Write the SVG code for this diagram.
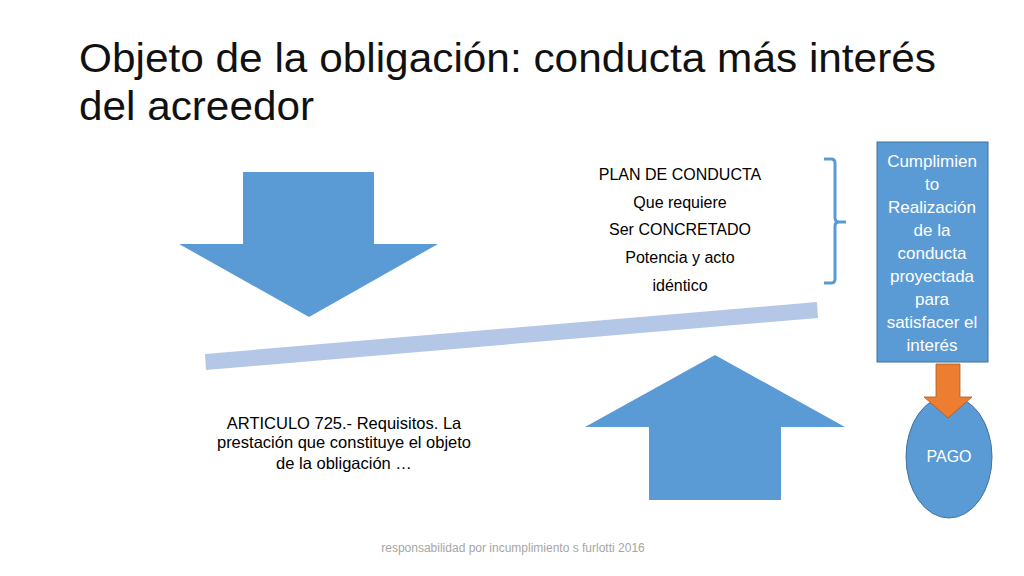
<svg xmlns="http://www.w3.org/2000/svg" width="1024" height="576" viewBox="0 0 1024 576">
<style>
.t{font-family:"Liberation Sans",Arial,sans-serif;}
.title{font-size:40px;fill:#111;}
.body{font-size:16px;fill:#000;text-anchor:middle;}
.art{font-size:16.5px;fill:#000;text-anchor:middle;}
.wt{font-size:17px;fill:#fff;text-anchor:middle;}
.blue{fill:#5B9BD5;}
.foot{font-size:12px;fill:#A6A6A6;text-anchor:middle;}
</style>
<rect width="1024" height="576" fill="#fff"/>
<g id="title" class="t title">
<text x="79" y="72" textLength="857" lengthAdjust="spacingAndGlyphs">Objeto de la obligación: conducta más interés</text>
<text x="79" y="120" textLength="235" lengthAdjust="spacingAndGlyphs">del acreedor</text>
</g>
<g id="down-arrow">
<polygon class="blue" points="243,172 374,172 374,244 438,244 309,317 179,244 243,244"/>
</g>
<g id="bar">
<polygon fill="#B4C7E7" points="205,354 817,302 818,318 206,370"/>
</g>
<g id="plan" class="t body">
<text x="680" y="180">PLAN DE CONDUCTA</text>
<text x="680" y="208">Que requiere</text>
<text x="680" y="235">Ser CONCRETADO</text>
<text x="680" y="263">Potencia y acto</text>
<text x="680" y="291">idéntico</text>
</g>
<g id="bracket">
<path d="M824,159 H831 Q835,159 835,163 V218 Q835,222 839,222 H846 M839,222 Q835,222 835,226 V279 Q835,283 831,283 H824" fill="none" stroke="#5B9BD5" stroke-width="3"/>
</g>
<g id="up-arrow">
<polygon class="blue" points="715,355 845,427 781,427 781,500 649,500 649,427 585,427"/>
</g>
<g id="articulo" class="t art">
<text x="344" y="429">ARTICULO 725.- Requisitos. La</text>
<text x="344" y="448">prestación que constituye el objeto</text>
<text x="344" y="469">de la obligación …</text>
</g>
<g id="cumplimiento">
<rect x="877" y="142" width="111" height="220" fill="#5B9BD5" stroke="#41719C" stroke-width="1"/>
<g class="t wt">
<text x="932" y="167">Cumplimien</text>
<text x="932" y="190">to</text>
<text x="932" y="213">Realización</text>
<text x="932" y="236">de la</text>
<text x="932" y="259">conducta</text>
<text x="932" y="282">proyectada</text>
<text x="932" y="305">para</text>
<text x="932" y="328">satisfacer el</text>
<text x="932" y="351">interés</text>
</g>
</g>
<g id="pago">
<ellipse cx="949" cy="457" rx="43" ry="61" fill="#5B9BD5" stroke="#41719C" stroke-width="1"/>
<text class="t" x="949" y="462" font-size="16" fill="#fff" text-anchor="middle">PAGO</text>
</g>
<g id="connectors">
<polygon points="936,364 960,364 960,397 972,397 948,418 924,397 936,397" fill="#ED7D31" stroke="#AE5A21" stroke-width="0.8"/>
</g>
<g id="footer">
<text class="t foot" x="513" y="552">responsabilidad por incumplimiento s furlotti 2016</text>
</g>
</svg>
